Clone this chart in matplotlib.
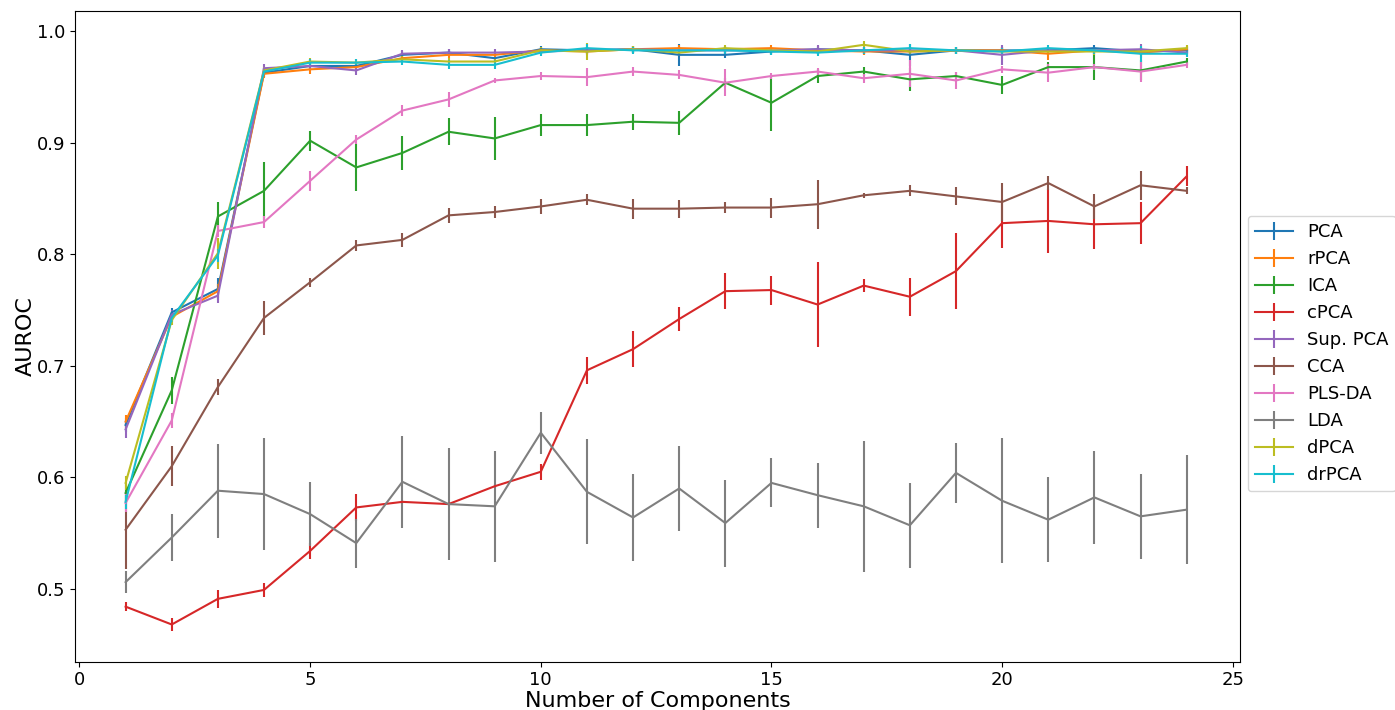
import matplotlib
matplotlib.use("Agg")
import matplotlib.pyplot as plt
import numpy as np

components = list(range(1, 25))
methods = ["PCA", "rPCA", "ICA", "cPCA", "Sup. PCA", "CCA", "PLS-DA", "LDA", "dPCA", "drPCA"]

pca = [0.647, 0.748, 0.769, 0.963, 0.969, 0.969, 0.979, 0.981, 0.976, 0.984, 0.983, 0.984,
       0.979, 0.979, 0.982, 0.984, 0.983, 0.979, 0.983, 0.983, 0.983, 0.985, 0.982, 0.983]
pca_err = [0.006, 0.004, 0.010, 0.004, 0.004, 0.003, 0.003, 0.003, 0.003, 0.003, 0.003, 0.003,
           0.010, 0.003, 0.003, 0.003, 0.003, 0.010, 0.003, 0.003, 0.003, 0.003, 0.003, 0.003]

rpca = [0.650, 0.744, 0.767, 0.962, 0.966, 0.968, 0.976, 0.979, 0.979, 0.983, 0.982, 0.984,
        0.985, 0.984, 0.985, 0.983, 0.982, 0.982, 0.983, 0.983, 0.980, 0.983, 0.981, 0.984]
rpca_err = [0.006, 0.004, 0.006, 0.004, 0.004, 0.003, 0.003, 0.003, 0.003, 0.003, 0.003, 0.003,
            0.003, 0.003, 0.003, 0.003, 0.003, 0.003, 0.003, 0.003, 0.006, 0.003, 0.005, 0.003]

ica = [0.586, 0.678, 0.834, 0.857, 0.902, 0.878, 0.891, 0.910, 0.904, 0.916, 0.916, 0.919,
       0.918, 0.954, 0.936, 0.960, 0.964, 0.957, 0.960, 0.952, 0.968, 0.968, 0.965, 0.973]
ica_err = [0.008, 0.012, 0.013, 0.026, 0.009, 0.021, 0.015, 0.012, 0.019, 0.010, 0.010, 0.007,
           0.011, 0.004, 0.025, 0.006, 0.004, 0.010, 0.004, 0.008, 0.005, 0.012, 0.009, 0.003]

cpca = [0.484, 0.468, 0.491, 0.499, 0.534, 0.573, 0.578, 0.576, 0.592, 0.605, 0.696, 0.715,
        0.742, 0.767, 0.768, 0.755, 0.772, 0.762, 0.785, 0.828, 0.830, 0.827, 0.828, 0.870]
cpca_err = [0.004, 0.006, 0.008, 0.006, 0.007, 0.012, 0.002, 0.002, 0.002, 0.007, 0.012, 0.016,
            0.011, 0.016, 0.013, 0.038, 0.006, 0.017, 0.034, 0.022, 0.029, 0.022, 0.019, 0.009]

suppca = [0.643, 0.746, 0.763, 0.967, 0.969, 0.965, 0.980, 0.981, 0.981, 0.982, 0.983, 0.984,
          0.983, 0.983, 0.983, 0.984, 0.983, 0.983, 0.983, 0.979, 0.983, 0.983, 0.984, 0.981]
suppca_err = [0.008, 0.004, 0.007, 0.004, 0.003, 0.004, 0.003, 0.003, 0.003, 0.003, 0.003, 0.003,
              0.003, 0.003, 0.003, 0.004, 0.003, 0.003, 0.003, 0.009, 0.003, 0.003, 0.005, 0.003]

cca = [0.553, 0.610, 0.681, 0.743, 0.775, 0.808, 0.813, 0.835, 0.838, 0.843, 0.849, 0.841,
       0.841, 0.842, 0.842, 0.845, 0.853, 0.857, 0.852, 0.847, 0.864, 0.843, 0.862, 0.857]
cca_err = [0.035, 0.018, 0.007, 0.015, 0.004, 0.005, 0.006, 0.007, 0.005, 0.007, 0.005, 0.009,
           0.008, 0.005, 0.009, 0.022, 0.002, 0.005, 0.008, 0.017, 0.006, 0.011, 0.013, 0.003]

plsda = [0.577, 0.651, 0.821, 0.829, 0.866, 0.903, 0.929, 0.939, 0.956, 0.960, 0.959, 0.964,
         0.961, 0.954, 0.960, 0.964, 0.958, 0.962, 0.956, 0.966, 0.963, 0.968, 0.964, 0.970]
plsda_err = [0.008, 0.007, 0.005, 0.005, 0.009, 0.004, 0.005, 0.007, 0.002, 0.004, 0.008, 0.004,
             0.004, 0.012, 0.003, 0.003, 0.004, 0.012, 0.008, 0.003, 0.008, 0.003, 0.009, 0.003]

lda = [0.506, 0.546, 0.588, 0.585, 0.567, 0.541, 0.596, 0.576, 0.574, 0.640, 0.587, 0.564,
       0.590, 0.559, 0.595, 0.584, 0.574, 0.557, 0.604, 0.579, 0.562, 0.582, 0.565, 0.571]
lda_err = [0.010, 0.021, 0.042, 0.050, 0.029, 0.022, 0.041, 0.050, 0.050, 0.019, 0.047, 0.039,
           0.038, 0.039, 0.022, 0.029, 0.059, 0.038, 0.027, 0.056, 0.038, 0.042, 0.038, 0.049]

dpca = [0.595, 0.741, 0.801, 0.965, 0.973, 0.972, 0.975, 0.973, 0.973, 0.983, 0.982, 0.984,
        0.981, 0.985, 0.983, 0.982, 0.988, 0.982, 0.983, 0.982, 0.982, 0.982, 0.982, 0.985]
dpca_err = [0.006, 0.004, 0.014, 0.003, 0.003, 0.003, 0.003, 0.003, 0.003, 0.003, 0.008, 0.003,
            0.003, 0.003, 0.003, 0.003, 0.003, 0.003, 0.003, 0.003, 0.003, 0.003, 0.003, 0.003]

drpca = [0.578, 0.743, 0.799, 0.964, 0.972, 0.972, 0.973, 0.970, 0.970, 0.981, 0.985, 0.983,
         0.983, 0.983, 0.982, 0.981, 0.983, 0.985, 0.983, 0.982, 0.985, 0.983, 0.980, 0.980]
drpca_err = [0.006, 0.004, 0.006, 0.003, 0.003, 0.003, 0.003, 0.004, 0.004, 0.003, 0.004, 0.003,
             0.003, 0.003, 0.003, 0.003, 0.003, 0.004, 0.003, 0.003, 0.003, 0.003, 0.007, 0.003]

series = [pca, rpca, ica, cpca, suppca, cca, plsda, lda, dpca, drpca]
errors = [pca_err, rpca_err, ica_err, cpca_err, suppca_err, cca_err, plsda_err, lda_err, dpca_err, drpca_err]
colors = ["#1f77b4", "#ff7f0e", "#2ca02c", "#d62728", "#9467bd",
          "#8c564b", "#e377c2", "#7f7f7f", "#bcbd22", "#17becf"]

fig = plt.figure(figsize=(13.95, 7.1), dpi=100)
ax = fig.add_axes([0.054, 0.068, 0.835, 0.916])

for name, vals, errs, c in zip(methods, series, errors, colors):
    ax.errorbar(components, vals, yerr=errs, color=c, label=name, linewidth=1.5, elinewidth=1.5)

ax.set_xlim(-0.09, 25.16)
ax.set_ylim(0.4346, 1.018)
ax.set_xticks([0, 5, 10, 15, 20, 25])
ax.set_yticks([0.5, 0.6, 0.7, 0.8, 0.9, 1.0])
ax.tick_params(labelsize=13)
ax.set_xlabel("Number of Components", fontsize=16, labelpad=1)
ax.set_ylabel("AUROC", fontsize=16, labelpad=1)

ax.legend(loc="center left", bbox_to_anchor=(0.888, 0.502), bbox_transform=fig.transFigure,
          fontsize=13, handlelength=2.1)

fig.savefig("out.png", dpi=100)
